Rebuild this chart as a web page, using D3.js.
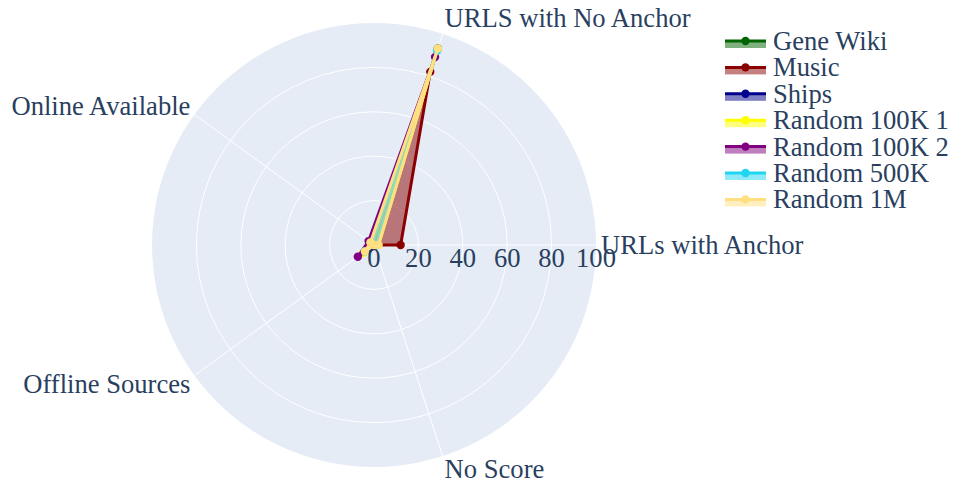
<!DOCTYPE html>
<html>
<head>
<meta charset="utf-8">
<script src="https://cdn.jsdelivr.net/npm/d3@7"></script>
<style>
  body { margin: 0; background: #fff; }
  text { font-family: "Liberation Serif", "Times New Roman", serif; fill: #2a3f5f; }
</style>
</head>
<body>
<div id="chart"></div>
<script>
const categories = ["URLs with Anchor", "URLS with No Anchor", "Online Available", "Offline Sources", "No Score"];
const seriesNames = ["Gene Wiki", "Music", "Ships", "Random 100K 1", "Random 100K 2", "Random 500K", "Random 1M"];
const seriesColors = ["#006400", "#8b0000", "#00008b", "#ffff00", "#800080", "#1fd5f0", "#ffdf80"];
const geneWiki = [1, 93, 1, 4, 0];
const music = [12, 82, 2, 1, 0];
const ships = [1, 93, 1, 3, 0];
const random100k1 = [2, 93, 2, 6, 0];
const random100k2 = [1, 89, 3, 9, 0];
const random500k = [1, 92, 1, 5, 0];
const random1m = [2, 93, 2, 5, 0];
const radialTicks = [0, 20, 40, 60, 80, 100];

const allSeries = [geneWiki, music, ships, random100k1, random100k2, random500k, random1m];

const W = 955, H = 485;
const cx = 374, cy = 245, R = 222;
const fontSize = "26.6px";

const svg = d3.select("#chart").append("svg")
  .attr("width", W)
  .attr("height", H);

const r = d3.scaleLinear().domain([0, 100]).range([0, R]);
// categories spread counterclockwise from 0 deg (east)
const angleOf = c => categories.indexOf(c) * 360 / categories.length;

function pt(cat, v) {
  const a = angleOf(cat) * Math.PI / 180;
  return [cx + r(v) * Math.cos(a), cy - r(v) * Math.sin(a)];
}

const g = svg.append("g");

// background disc
g.append("circle").attr("cx", cx).attr("cy", cy).attr("r", R).attr("fill", "#e5ecf6");

// circular grid
g.selectAll(".ring")
  .data(radialTicks.filter(t => t > 0 && t < 100))
  .enter().append("circle")
  .attr("class", "ring")
  .attr("cx", cx).attr("cy", cy)
  .attr("r", d => r(d))
  .attr("fill", "none")
  .attr("stroke", "#fff")
  .attr("stroke-width", 1);

// angular grid
g.selectAll(".spoke")
  .data(categories)
  .enter().append("line")
  .attr("class", "spoke")
  .attr("x1", cx).attr("y1", cy)
  .attr("x2", d => pt(d, 100)[0])
  .attr("y2", d => pt(d, 100)[1])
  .attr("stroke", "#fff")
  .attr("stroke-width", 1);

// traces
const line = d3.line();
allSeries.forEach((vals, i) => {
  const pts = categories.map((c, j) => pt(c, vals[j]));
  const col = seriesColors[i];
  g.append("path")
    .attr("d", line(pts) + "Z")
    .attr("fill", col)
    .attr("fill-opacity", 0.5)
    .attr("stroke", col)
    .attr("stroke-width", 3)
    .attr("stroke-linejoin", "round");
  g.selectAll(".m" + i)
    .data(pts)
    .enter().append("circle")
    .attr("class", "m" + i)
    .attr("cx", d => d[0]).attr("cy", d => d[1])
    .attr("r", 4.2)
    .attr("fill", col);
});

// radial tick labels
g.selectAll(".rt")
  .data(radialTicks)
  .enter().append("text")
  .attr("class", "rt")
  .attr("x", d => cx + r(d))
  .attr("y", cy + 22)
  .attr("text-anchor", "middle")
  .style("font-size", fontSize)
  .text(d => d);

// angular labels
const labelPos = [
  {dx: 5, dy: 9, anchor: "start"},
  {dx: 2, dy: -7, anchor: "start"},
  {dx: -4, dy: 0, anchor: "end"},
  {dx: -4, dy: 18, anchor: "end"},
  {dx: 2, dy: 22, anchor: "start"}
];
g.selectAll(".al")
  .data(categories)
  .enter().append("text")
  .attr("class", "al")
  .attr("x", (d, i) => pt(d, 100)[0] + labelPos[i].dx)
  .attr("y", (d, i) => pt(d, 100)[1] + labelPos[i].dy)
  .attr("text-anchor", (d, i) => labelPos[i].anchor)
  .style("font-size", fontSize)
  .text(d => d);

// legend
const legend = svg.append("g").attr("transform", "translate(725,41)");
const item = legend.selectAll(".li")
  .data(seriesNames)
  .enter().append("g")
  .attr("class", "li")
  .attr("transform", (d, i) => `translate(0,${i * 26.4})`);
item.append("rect")
  .attr("x", 0).attr("y", 0).attr("width", 41).attr("height", 7)
  .attr("fill", (d, i) => seriesColors[i])
  .attr("fill-opacity", 0.5);
item.append("line")
  .attr("x1", 0).attr("x2", 41).attr("y1", 0).attr("y2", 0)
  .attr("stroke", (d, i) => seriesColors[i])
  .attr("stroke-width", 3);
item.append("circle")
  .attr("cx", 20.5).attr("cy", 0).attr("r", 4.2)
  .attr("fill", (d, i) => seriesColors[i]);
item.append("text")
  .attr("x", 48).attr("y", 9)
  .style("font-size", fontSize)
  .text(d => d);
</script>
</body>
</html>
